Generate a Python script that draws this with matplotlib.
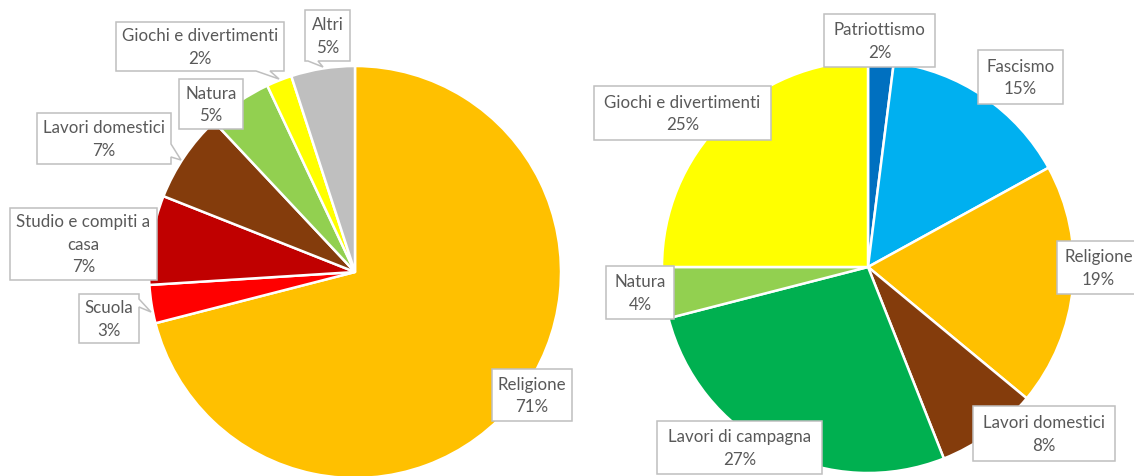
import matplotlib
matplotlib.use("Agg")
import matplotlib.pyplot as plt
from matplotlib.patches import Polygon

# ---------------- data ----------------
left_categories = ["Religione", "Scuola", "Studio e compiti a\ncasa", "Lavori domestici",
                   "Natura", "Giochi e divertimenti", "Altri"]
left_values = [71, 3, 7, 7, 5, 2, 5]
left_colors = ["#FFC000", "#FF0000", "#C00000", "#843C0C", "#92D050", "#FFFF00", "#BFBFBF"]

right_categories = ["Patriottismo", "Fascismo", "Religione", "Lavori domestici",
                    "Lavori di campagna", "Natura", "Giochi e divertimenti"]
right_values = [2, 15, 19, 8, 27, 4, 25]
right_colors = ["#0070C0", "#00B0F0", "#FFC000", "#843C0C", "#00B050", "#92D050", "#FFFF00"]

# ---------------- layout (pixel coords, y down) ----------------
W, H = 1134, 477
left_center, left_radius = (355, 273), 206
right_center, right_radius = (868, 268), 206

# label boxes: (x0, y0, x1, y1), pointer: (side, a, b, tipx, tipy) or None
left_boxes = [(492, 370, 572, 422), (79, 295, 139, 344), (10, 209, 157, 281),
              (37, 114, 171, 165), (179, 80, 243, 130), (116, 23, 284, 72),
              (305, 11, 350, 62)]
left_pointers = [None, ("right", 300, 308, 151, 313), None,
                 ("right", 145, 158, 181, 161), None,
                 ("bottom", 256, 270, 279, 80), ("bottom", 308, 318, 323, 68)]
right_boxes = [(824, 15, 935, 68), (978, 51, 1063, 105), (1057, 242, 1140, 295),
               (973, 407, 1115, 462), (657, 422, 822, 475), (606, 267, 674, 320),
               (594, 87, 771, 141)]
right_pointers = [None] * 7

TEXT_COLOR = "#595959"
BOX_EDGE = "#BFBFBF"
FONT = "Lato"
FSIZE = 12.2
PITCH = 22.5

fig = plt.figure(figsize=(W / 100, H / 100), dpi=100)
ax = fig.add_axes([0, 0, 1, 1])


def draw_pie(values, colors, center, radius):
    ax.pie(values, colors=colors, startangle=-90, counterclock=True,
           center=center, radius=radius,
           wedgeprops=dict(edgecolor="white", linewidth=1.8))


def box_path(box, pointer):
    x0, y0, x1, y1 = box
    if pointer is None:
        return [(x0, y0), (x1, y0), (x1, y1), (x0, y1)]
    side, a, b, tx, ty = pointer
    if side == "bottom":
        return [(x0, y0), (x1, y0), (x1, y1), (b, y1), (tx, ty), (a, y1), (x0, y1)]
    if side == "right":
        return [(x0, y0), (x1, y0), (x1, a), (tx, ty), (x1, b), (x1, y1), (x0, y1)]
    if side == "left":
        return [(x0, y0), (x1, y0), (x1, y1), (x0, y1), (x0, b), (tx, ty), (x0, a)]
    return [(x0, y0), (a, y0), (tx, ty), (b, y0), (x1, y0), (x1, y1), (x0, y1)]


def draw_labels(categories, values, boxes, pointers):
    for name, v, box, ptr in zip(categories, values, boxes, pointers):
        ax.add_patch(Polygon(box_path(box, ptr), closed=True, facecolor="white",
                             edgecolor=BOX_EDGE, linewidth=1.1, zorder=5))
        lines = name.split("\n") + [f"{v}%"]
        cx = (box[0] + box[2]) / 2
        cy = (box[1] + box[3]) / 2
        n = len(lines)
        for i, line in enumerate(lines):
            y = cy + (i - (n - 1) / 2) * PITCH
            ax.text(cx, y, line, ha="center", va="center", fontsize=FSIZE,
                    family=FONT, color=TEXT_COLOR, zorder=6)


draw_pie(left_values, left_colors, left_center, left_radius)
draw_pie(right_values, right_colors, right_center, right_radius)
draw_labels(left_categories, left_values, left_boxes, left_pointers)
draw_labels(right_categories, right_values, right_boxes, right_pointers)

ax.set_xlim(0, W)
ax.set_ylim(H, 0)
ax.set_aspect("auto")
ax.axis("off")
fig.savefig("out.png", dpi=100, facecolor="white")
